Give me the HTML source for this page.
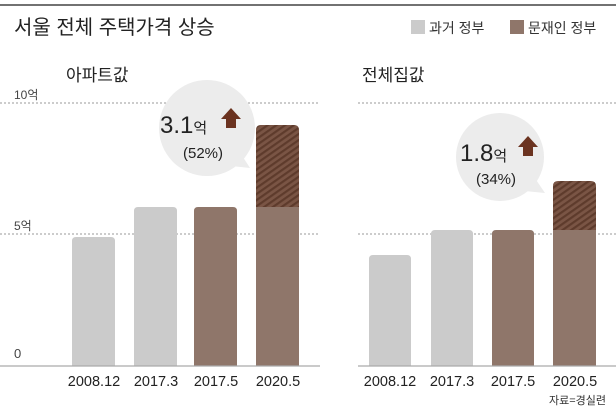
<!DOCTYPE html>
<html><head><meta charset="utf-8"><style>
body{margin:0;background:#fff}
svg{display:block;font-family:"Liberation Sans","Noto Sans CJK KR",sans-serif}
</style></head><body>
<svg width="616" height="410" viewBox="0 0 616 410">
<defs>
<pattern id="h" width="5" height="5" patternUnits="userSpaceOnUse" patternTransform="rotate(-35)">
<rect width="5" height="5" fill="#7a5545"/><rect width="5" height="2.2" fill="#5e3b2c"/>
</pattern>
</defs>
<line x1="0" y1="5" x2="616" y2="5" stroke="#444" stroke-width="1.5"/>
<text x="14" y="34" font-size="20" fill="#222">서울 전체 주택가격 상승</text>
<rect x="411" y="20" width="14" height="14" fill="#cbcbcb"/>
<text x="429" y="33" font-size="14" fill="#333">과거 정부</text>
<rect x="510" y="20" width="14" height="14" fill="#8f766a"/>
<text x="528" y="33" font-size="14" fill="#333">문재인 정부</text>
<text x="66" y="81" font-size="17" fill="#222">아파트값</text>
<text x="362" y="81" font-size="17" fill="#222">전체집값</text>
<text x="14" y="99" font-size="12" fill="#444">10억</text>
<text x="14" y="230" font-size="12" fill="#444">5억</text>
<text x="14" y="358" font-size="13" fill="#444">0</text>
<g stroke="#999" stroke-dasharray="2,2" stroke-width="1">
<line x1="0" y1="103" x2="320" y2="103"/><line x1="358" y1="103" x2="616" y2="103"/>
<line x1="0" y1="234" x2="320" y2="234"/><line x1="358" y1="234" x2="616" y2="234"/>
</g>
<g fill="#ececec">
<ellipse cx="207" cy="128" rx="48" ry="48"/>
<path d="M222 165 L250 168 L232 140 Z"/>
<ellipse cx="500" cy="157" rx="44" ry="44"/>
<path d="M515 190 L545 193 L528 168 Z"/>
</g>
<text x="160" y="133" font-size="24" fill="#222">3.1<tspan font-size="15">억</tspan></text>
<path d="M221 119 l10 -11 l10 11 h-5 v9 h-10 v-9 z" fill="#6b3320"/>
<text x="203" y="158" font-size="15" fill="#222" text-anchor="middle">(52%)</text>
<text x="460" y="161" font-size="24" fill="#222">1.8<tspan font-size="15">억</tspan></text>
<path d="M518 147 l10 -11 l10 11 h-5 v9 h-10 v-9 z" fill="#6b3320"/>
<text x="496" y="184" font-size="15" fill="#222" text-anchor="middle">(34%)</text>
<path d="M72 366 V241 q0-4 4-4 h35 q4 0 4 4 V366 Z" fill="#cbcbcb"/>
<path d="M134 366 V211 q0-4 4-4 h35 q4 0 4 4 V366 Z" fill="#cbcbcb"/>
<path d="M194 366 V211 q0-4 4-4 h35 q4 0 4 4 V366 Z" fill="#8f766a"/>
<path d="M256 207 V130 q0-5 5-5 h33 q5 0 5 5 V207 Z" fill="url(#h)"/>
<rect x="256" y="207" width="43" height="159" fill="#8f766a"/>
<path d="M369 366 V259 q0-4 4-4 h34 q4 0 4 4 V366 Z" fill="#cbcbcb"/>
<path d="M431 366 V234 q0-4 4-4 h34 q4 0 4 4 V366 Z" fill="#cbcbcb"/>
<path d="M492 366 V234 q0-4 4-4 h34 q4 0 4 4 V366 Z" fill="#8f766a"/>
<path d="M553 230 V186 q0-5 5-5 h33 q5 0 5 5 V230 Z" fill="url(#h)"/>
<rect x="553" y="230" width="43" height="136" fill="#8f766a"/>
<line x1="0" y1="366" x2="320" y2="366" stroke="#aaa" stroke-width="1.2"/>
<line x1="358" y1="366" x2="616" y2="366" stroke="#aaa" stroke-width="1.2"/>
<g font-size="14.5" fill="#222" text-anchor="middle">
<text x="94" y="386">2008.12</text><text x="156" y="386">2017.3</text>
<text x="216" y="386">2017.5</text><text x="278" y="386">2020.5</text>
<text x="390" y="386">2008.12</text><text x="452" y="386">2017.3</text>
<text x="513" y="386">2017.5</text><text x="575" y="386">2020.5</text>
</g>
<text x="606" y="404" font-size="11" fill="#333" text-anchor="end">자료=경실련</text>
</svg>
</body></html>
